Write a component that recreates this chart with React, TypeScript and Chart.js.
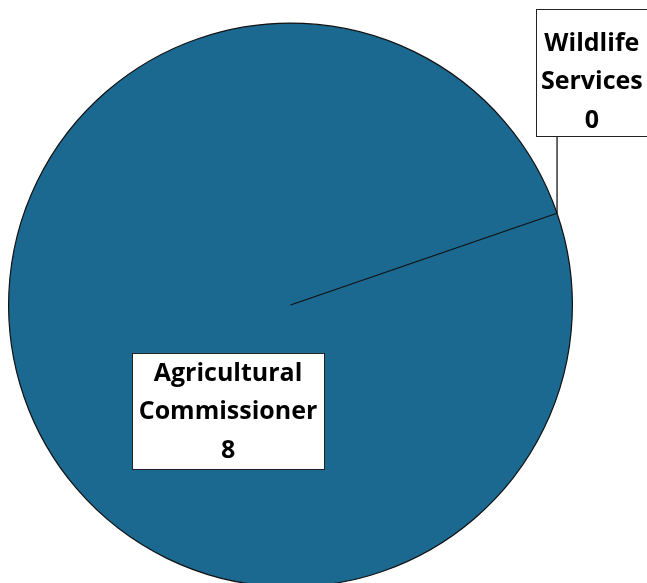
import React, { useEffect, useRef } from "react";
import { Chart, registerables } from "chart.js";

Chart.register(...registerables);

// ---- data ----
const categories = ["Agricultural Commissioner", "Wildlife Services"];
const labelLines = [["Agricultural", "Commissioner"], ["Wildlife", "Services"]];
const values = [8, 0];
const sliceColors = ["#1b6890", "#1b6890"];
const firstSliceAngle = 71;

// ---- label layout (box centre offsets in radius units, sizes in px) ----
const LABEL_LAYOUT = [
  { ox: -0.2216, oy: 0.3759, w: 192, h: 116, baselines: [28, 66, 105], leader: false },
  { ox: 1.069, oy: -0.8245, w: 112, h: 127, baselines: [42, 80, 119], leader: true },
];
const LABEL_FONT = "bold 25px 'Open Sans', 'DejaVu Sans', sans-serif";

const labelPlugin = {
  id: "boxLabels",
  afterDatasetsDraw(chart: any) {
    const meta = chart.getDatasetMeta(0);
    const ctx = chart.ctx as CanvasRenderingContext2D;
    const a0 = meta.data[0] as any;
    const cx = a0.x;
    const cy = a0.y;
    const r = a0.outerRadius;
    ctx.save();
    LABEL_LAYOUT.forEach((L, i) => {
      const bx = cx + L.ox * r - L.w / 2;
      const by = cy + L.oy * r - L.h / 2;
      if (L.leader) {
        const arc = meta.data[i] as any;
        const ang = arc.startAngle;
        const px = cx + r * Math.cos(ang);
        const py = cy + r * Math.sin(ang);
        ctx.beginPath();
        ctx.strokeStyle = "#000000";
        ctx.lineWidth = 1.2;
        ctx.moveTo(px, py);
        ctx.lineTo(px, by + L.h);
        ctx.stroke();
      }
      ctx.fillStyle = "#ffffff";
      ctx.fillRect(bx, by, L.w, L.h);
      ctx.strokeStyle = "#222222";
      ctx.lineWidth = 1;
      ctx.strokeRect(Math.round(bx) + 0.5, Math.round(by) + 0.5, L.w, L.h);
      ctx.fillStyle = "#000000";
      ctx.font = LABEL_FONT;
      ctx.textAlign = "center";
      ctx.textBaseline = "alphabetic";
      const lines = [...labelLines[i], String(values[i])];
      lines.forEach((t, j) => {
        ctx.fillText(t, bx + L.w / 2, by + L.baselines[j]);
      });
    });
    ctx.restore();
  },
};

export default function App() {
  const ref = useRef<HTMLCanvasElement | null>(null);
  useEffect(() => {
    if (!ref.current) return;
    const chart = new Chart(ref.current, {
      type: "pie",
      data: {
        labels: categories,
        datasets: [
          {
            data: values,
            backgroundColor: sliceColors,
            borderColor: "#111111",
            borderWidth: 1.2,
          },
        ],
      },
      options: {
        responsive: false,
        animation: false,
        rotation: firstSliceAngle,
        layout: { padding: { left: 8, right: 74, top: 22.5, bottom: 12.5 } },
        plugins: {
          legend: { display: false },
          tooltip: { enabled: false },
        },
      },
      plugins: [labelPlugin],
    });
    return () => chart.destroy();
  }, []);
  return (
    <div
      style={{
        position: "absolute",
        left: 0,
        top: 0,
        width: 647,
        height: 583,
        overflow: "hidden",
        background: "#ffffff",
      }}
    >
      <canvas ref={ref} width={647} height={600} style={{ display: "block" }} />
    </div>
  );
}
